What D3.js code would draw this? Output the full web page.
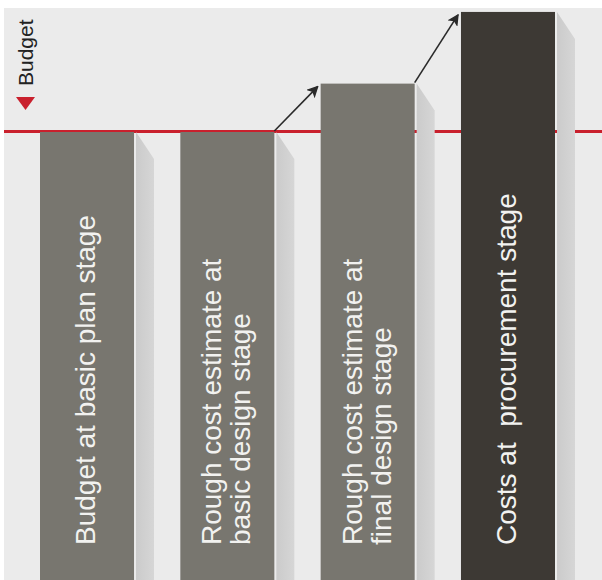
<!DOCTYPE html>
<html>
<head>
<meta charset="utf-8">
<script src="https://cdn.jsdelivr.net/npm/d3@7"></script>
<style>
  body { margin: 0; background: #fff; }
  text { font-family: "Liberation Sans", Arial, sans-serif; }
</style>
</head>
<body>
<div id="chart"></div>
<script>
const width = 602;
const height = 580;

// data
const stages = ["plan", "basic", "final", "procurement"];
const labelLines = [
  ["Budget at basic plan stage"],
  ["Rough cost estimate at", "basic design stage"],
  ["Rough cost estimate at", "final design stage"],
  ["Costs at\u00a0 procurement stage"]
];
const costs = [100, 100, 110.8, 126.8];
const barColors = ["#78766f", "#78766f", "#78766f", "#3d3934"];
const budget = 100;

const svg = d3.select("#chart")
    .append("svg")
    .attr("width", width)
    .attr("height", height);

// grey panel
svg.append("rect")
    .attr("x", 4)
    .attr("y", 8)
    .attr("width", width - 4)
    .attr("height", height - 8)
    .attr("fill", "#ebebeb");

const x = d3.scaleBand()
    .domain(stages)
    .range([40, 555])
    .paddingInner(0.33)
    .paddingOuter(0);

const y = d3.scaleLinear()
    .domain([0, budget])
    .range([height, 132]);

const defs = svg.append("defs");
const grad = defs.append("linearGradient")
    .attr("id", "shadowGrad")
    .attr("x1", "0%").attr("x2", "100%")
    .attr("y1", "0%").attr("y2", "0%");
grad.append("stop").attr("offset", "0%").attr("stop-color", "#cbcbcb");
grad.append("stop").attr("offset", "100%").attr("stop-color", "#d6d6d6");

defs.append("marker")
    .attr("id", "arrow")
    .attr("viewBox", "0 0 10 10")
    .attr("refX", 9)
    .attr("refY", 5)
    .attr("markerWidth", 7)
    .attr("markerHeight", 7)
    .attr("orient", "auto")
    .append("path")
    .attr("d", "M1,1 L9,5 L1,9 L3,5 Z")
    .attr("fill", "#2a2a2a")
    .attr("stroke", "#2a2a2a")
    .attr("stroke-width", 1.2);

// budget line
svg.append("line")
    .attr("x1", 4)
    .attr("x2", width)
    .attr("y1", y(budget) - 0.5)
    .attr("y2", y(budget) - 0.5)
    .attr("stroke", "#c9202d")
    .attr("stroke-width", 3);

// shadows
svg.selectAll(".shadow")
    .data(costs)
    .enter().append("path")
    .attr("class", "shadow")
    .attr("fill", "url(#shadowGrad)")
    .attr("d", (d, i) => {
        const x0 = x(stages[i]) + x.bandwidth() + 2;
        const x1 = x0 + 18;
        const t = y(d);
        return `M${x0},${t} L${x1},${t + 27} L${x1},${height} L${x0},${height} Z`;
    });

// bars
svg.selectAll(".bar")
    .data(costs)
    .enter().append("rect")
    .attr("class", "bar")
    .attr("x", (d, i) => x(stages[i]))
    .attr("y", d => y(d))
    .attr("width", x.bandwidth())
    .attr("height", d => height - y(d))
    .attr("fill", (d, i) => barColors[i]);

// arrows between rising stages
for (let i = 1; i < costs.length - 1; i++) {
    svg.append("line")
        .attr("x1", x(stages[i]) + x.bandwidth())
        .attr("y1", y(costs[i]) - 1)
        .attr("x2", x(stages[i + 1]) - 3)
        .attr("y2", y(costs[i + 1]) + 3)
        .attr("stroke", "#2a2a2a")
        .attr("stroke-width", 1.6)
        .attr("marker-end", "url(#arrow)");
}

// bar labels (rotated)
const fs = 28;
const lh = 29;
labelLines.forEach((lines, i) => {
    const cx = x(stages[i]) + x.bandwidth() / 2;
    lines.forEach((ln, j) => {
        const off = fs * 0.3 + (j - (lines.length - 1) / 2) * lh;
        svg.append("text")
            .attr("transform", `translate(${cx + off},545) rotate(-90)`)
            .attr("fill", "#f2f2f0")
            .style("font-size", fs + "px")
            .text(ln);
    });
});

// budget marker
svg.append("text")
    .attr("transform", "translate(33,86) rotate(-90)")
    .attr("fill", "#222")
    .style("font-size", "21px")
    .text("Budget");

svg.append("path")
    .attr("d", "M16,97 L35,97 L25.5,110 Z")
    .attr("fill", "#c9202d");
</script>
</body>
</html>
